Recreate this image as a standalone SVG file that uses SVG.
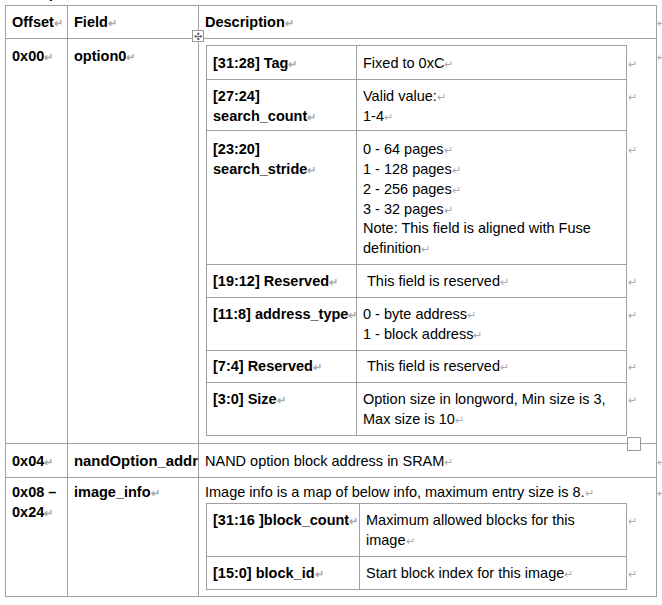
<svg xmlns="http://www.w3.org/2000/svg" width="662" height="605" viewBox="0 0 662 605">
<style>
.l{stroke:#a0a0a0;stroke-width:1;fill:none}
text{font-family:"Liberation Sans",Arial,sans-serif;font-size:14.5px;fill:#000}
.b{font-weight:bold}
.m{fill:#aaa;font-size:11px}
</style>
<rect width="662" height="605" fill="#fff"/>
<text class="b" x="6" y="-2">FCB option</text>
<g id="outer-grid">
<rect class="l" x="5.5" y="5.5" width="651" height="591"/>
<line class="l" x1="5" y1="38.5" x2="656" y2="38.5"/>
<line class="l" x1="5" y1="443.5" x2="656" y2="443.5"/>
<line class="l" x1="5" y1="477.5" x2="656" y2="477.5"/>
<line class="l" x1="67.5" y1="5" x2="67.5" y2="596"/>
<line class="l" x1="198.5" y1="5" x2="198.5" y2="596"/>
<rect x="192.5" y="30.5" width="11" height="11" fill="#fff" stroke="#999"/>
<text x="198" y="40" style="font-size:10px;fill:#555" text-anchor="middle">✣</text>
<rect x="627.5" y="437.5" width="13" height="13" fill="#fff" stroke="#999"/>
</g>
<g id="header">
<text class="b" x="12" y="27">Offset<tspan class="m">↵</tspan></text>
<text class="b" x="74" y="27">Field<tspan class="m">↵</tspan></text>
<text class="b" x="205" y="27">Description<tspan class="m">↵</tspan></text>
<text class="m" x="657" y="27">↵</text>
</g>
<g id="row-0x00">
<text class="b" x="12" y="61">0x00<tspan class="m">↵</tspan></text>
<text class="b" x="74" y="61">option0<tspan class="m">↵</tspan></text>
<text class="m" x="657" y="61">↵</text>
</g>
<g id="option0-table">
<rect class="l" x="206.5" y="45.5" width="420" height="390"/>
<line class="l" x1="356.5" y1="45" x2="356.5" y2="436"/>
<line class="l" x1="206" y1="79.5" x2="626" y2="79.5"/>
<line class="l" x1="206" y1="130.5" x2="626" y2="130.5"/>
<line class="l" x1="206" y1="264.5" x2="626" y2="264.5"/>
<line class="l" x1="206" y1="297.5" x2="626" y2="297.5"/>
<line class="l" x1="206" y1="350.5" x2="626" y2="350.5"/>
<line class="l" x1="206" y1="382.5" x2="626" y2="382.5"/>
<text class="b" x="213" y="68">[31:28] Tag<tspan class="m">↵</tspan></text>
<text x="363" y="68">Fixed to 0xC<tspan class="m">↵</tspan></text>
<text class="b" x="213" y="101">[27:24]</text>
<text class="b" x="213" y="121">search_count<tspan class="m">↵</tspan></text>
<text x="363" y="101">Valid value:<tspan class="m">↵</tspan></text>
<text x="363" y="121">1-4<tspan class="m">↵</tspan></text>
<text class="b" x="213" y="154">[23:20]</text>
<text class="b" x="213" y="174">search_stride<tspan class="m">↵</tspan></text>
<text x="363" y="154">0 - 64 pages<tspan class="m">↵</tspan></text>
<text x="363" y="174">1 - 128 pages<tspan class="m">↵</tspan></text>
<text x="363" y="194">2 - 256 pages<tspan class="m">↵</tspan></text>
<text x="363" y="214">3 - 32 pages<tspan class="m">↵</tspan></text>
<text x="363" y="233">Note: This field is aligned with Fuse</text>
<text x="363" y="253">definition<tspan class="m">↵</tspan></text>
<text class="b" x="213" y="286">[19:12] Reserved<tspan class="m">↵</tspan></text>
<text x="367" y="286">This field is reserved<tspan class="m">↵</tspan></text>
<text class="b" x="213" y="319">[11:8] address_type<tspan class="m">↵</tspan></text>
<text x="363" y="319">0 - byte address<tspan class="m">↵</tspan></text>
<text x="363" y="339">1 - block address<tspan class="m">↵</tspan></text>
<text class="b" x="213" y="371">[7:4] Reserved<tspan class="m">↵</tspan></text>
<text x="367" y="371">This field is reserved<tspan class="m">↵</tspan></text>
<text class="b" x="213" y="404">[3:0] Size<tspan class="m">↵</tspan></text>
<text x="363" y="404">Option size in longword, Min size is 3,</text>
<text x="363" y="424">Max size is 10<tspan class="m">↵</tspan></text>
<text class="m" x="628" y="68">↵</text><text class="m" x="628" y="101">↵</text><text class="m" x="628" y="154">↵</text>
<text class="m" x="628" y="286">↵</text><text class="m" x="628" y="319">↵</text><text class="m" x="628" y="371">↵</text><text class="m" x="628" y="404">↵</text>
</g>
<g id="row-0x04">
<text class="b" x="12" y="466">0x04<tspan class="m">↵</tspan></text>
<text class="b" x="74" y="466" textLength="124" lengthAdjust="spacingAndGlyphs">nandOption_addr</text>
<text x="205" y="466">NAND option block address in SRAM<tspan class="m">↵</tspan></text>
<text class="m" x="657" y="466">↵</text>
</g>
<g id="row-0x08">
<text class="b" x="12" y="497">0x08 –</text>
<text class="b" x="12" y="517">0x24<tspan class="m">↵</tspan></text>
<text class="b" x="74" y="497">image_info<tspan class="m">↵</tspan></text>
<text x="205" y="497">Image info is a map of below info, maximum entry size is 8.<tspan class="m">↵</tspan></text>
<text class="m" x="657" y="497">↵</text>
</g>
<g id="image-info-table">
<rect class="l" x="206.5" y="503.5" width="420" height="86"/>
<line class="l" x1="359.5" y1="503" x2="359.5" y2="590"/>
<line class="l" x1="206" y1="556.5" x2="626" y2="556.5"/>
<text class="b" x="213" y="525">[31:16 ]block_count<tspan class="m">↵</tspan></text>
<text x="366" y="525">Maximum allowed blocks for this</text>
<text x="366" y="545">image<tspan class="m">↵</tspan></text>
<text class="b" x="213" y="578">[15:0] block_id<tspan class="m">↵</tspan></text>
<text x="366" y="578">Start block index for this image<tspan class="m">↵</tspan></text>
<text class="m" x="628" y="525">↵</text><text class="m" x="628" y="578">↵</text>
</g>
</svg>
